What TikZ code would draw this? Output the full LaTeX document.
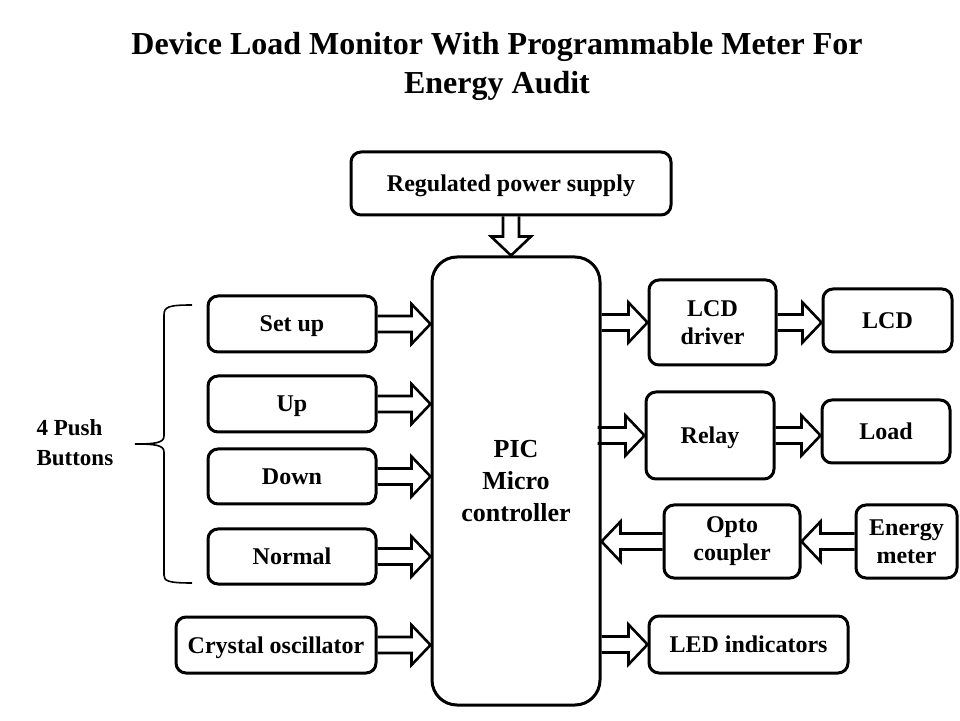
\documentclass[tikz,border=0pt]{standalone}
\usepackage{fontspec}
\setmainfont{Liberation Serif}
\usetikzlibrary{calc}

\begin{document}
\begin{tikzpicture}[x=1pt, y=1pt,
  box/.style={draw, line width=3pt, rounded corners=10pt, align=center,
    font=\fontsize{24}{28}\selectfont\bfseries, inner sep=2pt},
  oneline/.style={box, text height=16pt, text depth=0pt},
  fatarrow/.style={draw, line width=2.6pt, line join=miter,
    to path={
      ($(\tikztotarget)!19pt!(\tikztostart)$) coordinate (fa-base)
      ($(\tikztostart)!8pt!90:(\tikztotarget)$)
      -- ($(fa-base)!8pt!90:(\tikztotarget)$)
      -- ($(fa-base)!20pt!90:(\tikztotarget)$)
      -- (\tikztotarget)
      -- ($(fa-base)!20pt!-90:(\tikztotarget)$)
      -- ($(fa-base)!8pt!-90:(\tikztotarget)$)
      -- ($(\tikztostart)!8pt!-90:(\tikztotarget)$)
    }}]
  \useasboundingbox (0,0) rectangle (960,720);

  % Title
  \node[align=center, font=\fontsize{32}{39}\selectfont\bfseries] (title) at (497,653.5)
    {Device Load Monitor With Programmable Meter For\\Energy Audit};

  % Power supply and controller
  \node[oneline, minimum width=320, minimum height=63] (rps) at (511,536.5) {Regulated power supply};
  \node[box, rounded corners=25pt, minimum width=168, minimum height=448,
    font=\fontsize{26}{32}\selectfont\bfseries] (pic) at (516,239) {PIC\\Micro\\controller};
  \draw[fatarrow] (rps.south) to (rps.south |- pic.north);

  % Push buttons
  \node[oneline, minimum width=168, minimum height=56] (setup) at (292,396) {Set up};
  \node[oneline, minimum width=168, minimum height=56] (up) at (292,316) {Up};
  \node[oneline, minimum width=168, minimum height=55] (down) at (292,243.5) {Down};
  \node[oneline, minimum width=168, minimum height=55] (normal) at (292,163.5) {Normal};
  % brace
  \draw[line width=1.6pt] (192,415) .. controls (168,415) and (164,413) .. (164,405)
    -- (164,284) .. controls (164,277) and (155,276) .. (135,276)
    .. controls (155,276) and (164,275) .. (164,268)
    -- (164,145) .. controls (164,139) and (168,137) .. (192,137);
  \node[align=left, anchor=west, font=\fontsize{23}{30}\selectfont\bfseries] (pushlbl) at (33,277) {4 Push\\Buttons};
  \foreach \b in {setup, up, down, normal}
    \draw[fatarrow] (\b.east) to (pic.west |- \b.east);

  % Oscillator
  \node[oneline, minimum width=200, minimum height=56] (xtal) at (276,75) {Crystal oscillator};
  \draw[fatarrow] (xtal.east) to (pic.west |- xtal.east);

  % Outputs
  \node[box, minimum width=127, minimum height=85] (lcddrv) at (712.5,397.5) {LCD\\driver};
  \node[oneline, minimum width=129, minimum height=63] (lcd) at (887.5,399.5) {LCD};
  \draw[fatarrow] (pic.east |- lcddrv.west) to (lcddrv.west);
  \draw[fatarrow] (lcddrv.east) to (lcd.west |- lcddrv.east);

  \node[oneline, minimum width=128, minimum height=87] (relay) at (710,284.5) {Relay};
  \node[oneline, minimum width=128, minimum height=63] (load) at (886,288.5) {Load};
  \draw[fatarrow] ([xshift=-4pt]pic.east |- relay.west) to (relay.west);
  \draw[fatarrow] (relay.east) to (load.west |- relay.east);

  % Energy meter input
  \node[box, minimum width=136, minimum height=73] (opto) at (732,178.5) {Opto\\coupler};
  \node[box, minimum width=101, minimum height=73] (emeter) at (906.5,178.5) {Energy\\meter};
  \draw[fatarrow] (emeter.west) to (opto.east |- emeter.west);
  \draw[fatarrow] (opto.west) to (pic.east |- opto.west);

  \node[oneline, minimum width=199, minimum height=57] (led) at (748.5,75.5) {LED indicators};
  \draw[fatarrow] (pic.east |- led.west) to (led.west);
\end{tikzpicture}
\end{document}
